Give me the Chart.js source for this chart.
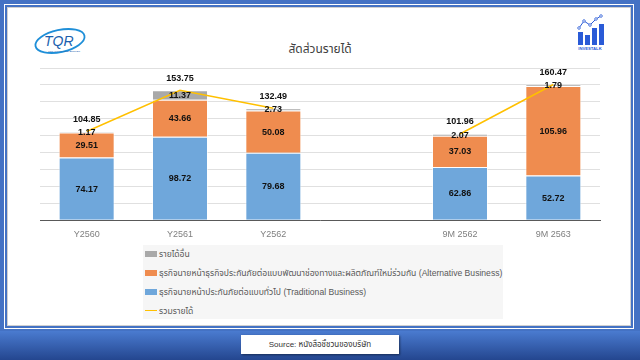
<!DOCTYPE html>
<html>
<head>
<meta charset="utf-8">
<script src="https://cdn.jsdelivr.net/npm/chart.js@4.4.1/dist/chart.umd.min.js"></script>
<style>
  html, body { margin: 0; padding: 0; }
  body { width: 640px; height: 360px; overflow: hidden; background: #4472c4; position: relative;
         font-family: "Liberation Sans", Arial, "Noto Sans Thai", "Noto Sans", sans-serif; }
  #panel { position: absolute; left: 4px; top: 4px; width: 628px; height: 323px; background: #fff;
           border: 1px solid #fff; box-shadow: inset 0 0 0 2px #4472c4, inset 0 0 0 3px #d0d0d0; }
  #bottomBar { position: absolute; left: 0; top: 331px; width: 640px; height: 29px;
               background: linear-gradient(#4a7bd0, #24468f); }
  #source { position: absolute; left: 241px; top: 335px; width: 158px; height: 19px; background: #fff;
            box-shadow: 1px 1px 2px rgba(0,0,0,0.45); font-size: 8px; color: #333; text-align: center; line-height: 19px; }
  #title { position: absolute; left: 0; top: 40px; width: 640px; text-align: center; font-size: 12px; color: #404040; }
  #chartWrap { position: absolute; left: 0; top: 0; width: 640px; height: 252px; }
  #legend { position: absolute; left: 143px; top: 245px; width: 360px; height: 74px; background: #f6f6f6; }
  .item { position: absolute; left: 2px; height: 10px; font-size: 8.6px; color: #595959; line-height: 10px; white-space: nowrap; }
  .sw { display: inline-block; width: 12px; height: 6px; vertical-align: middle; margin-right: 2px; position: relative; top: -1px; }
  .ln { display: inline-block; width: 12px; height: 1.5px; vertical-align: middle; margin-right: 2px; position: relative; top: -1px; }
  #tqr { position: absolute; left: 32px; top: 25px; }
  #inv { position: absolute; left: 572px; top: 12px; }
</style>
</head>
<body>
<div id="panel"></div>
<div id="bottomBar"></div>
<div id="source">Source: หนังสือชี้ชวนของบริษัท</div>

<svg id="tqr" width="58" height="34" viewBox="0 0 58 34">
  <ellipse cx="28" cy="16" rx="25" ry="11" transform="rotate(-12 28 16)" fill="none" stroke="#1f8fd8" stroke-width="1.8"/>
  <text x="12" y="21" font-family="Liberation Sans, Arial" font-style="italic" font-size="14" fill="#1b5fae">TQR</text>
  <text x="16" y="26.5" font-family="Liberation Sans, Arial" font-size="2.5" fill="#1b5fae">TQR INSURANCE BROKER</text>
</svg>

<svg id="inv" width="36" height="40" viewBox="0 0 36 40">
  <rect x="6" y="20" width="5" height="13" fill="#2a5bd7"/>
  <rect x="13" y="23" width="5" height="10" fill="#2a5bd7"/>
  <rect x="20" y="16" width="5" height="17" fill="#2a5bd7"/>
  <rect x="27" y="12" width="5" height="21" fill="#2a5bd7"/>
  <polyline points="7,16 12,9 18,13 24,7 29,4" fill="none" stroke="#2a5bd7" stroke-width="1"/>
  <circle cx="7" cy="16" r="1.3" fill="#fff" stroke="#2a5bd7" stroke-width="0.8"/>
  <circle cx="12" cy="9" r="1.3" fill="#fff" stroke="#2a5bd7" stroke-width="0.8"/>
  <circle cx="18" cy="13" r="1.3" fill="#fff" stroke="#2a5bd7" stroke-width="0.8"/>
  <circle cx="24" cy="7" r="1.3" fill="#fff" stroke="#2a5bd7" stroke-width="0.8"/>
  <circle cx="29" cy="4" r="1.3" fill="#fff" stroke="#2a5bd7" stroke-width="0.8"/>
  <text x="18" y="38" text-anchor="middle" font-family="Liberation Sans, Arial" font-weight="bold" font-size="4.2" fill="#2a5bd7">INVESTALK</text>
</svg>

<div id="title">สัดส่วนรายได้</div>
<div id="chartWrap"><canvas id="c" width="640" height="252"></canvas></div>
<div id="legend"></div>

<script>
// Revenue split by business line (million baht); blank category separates full years from 9-month figures
const categories  = ['Y2560', 'Y2561', 'Y2562', '', '9M 2562', '9M 2563'];
const traditional = [74.17, 98.72, 79.68, null, 62.86, 52.72];
const alternative = [29.51, 43.66, 50.08, null, 37.03, 105.96];
const otherIncome = [1.17, 11.37, 2.73, null, 2.07, 1.79];
const totalIncome = [104.85, 153.75, 132.49, null, 101.96, 160.47];

const seriesNames = {
  other: 'รายได้อื่น',
  alternative: 'ธุรกิจนายหน้าธุรกิจประกันภัยต่อแบบพัฒนาช่องทางและผลิตภัณฑ์ใหม่ร่วมกัน (Alternative Business)',
  traditional: 'ธุรกิจนายหน้าประกันภัยต่อแบบทั่วไป (Traditional Business)',
  total: 'รวมรายได้'
};

const COLORS = { traditional: '#6fa7db', alternative: '#ef8c4f', other: '#a9a9a9', total: '#ffc000' };
const LABEL_FONT = 'bold 9px "Liberation Sans", Arial, sans-serif';

// Writes each segment value in its middle and the total just above each stack
const valueLabels = {
  id: 'valueLabels',
  afterDatasetsDraw(chart) {
    const ctx = chart.ctx;
    ctx.save();
    ctx.font = LABEL_FONT;
    ctx.fillStyle = '#111';
    ctx.textAlign = 'center';
    ctx.textBaseline = 'middle';
    chart.data.datasets.forEach((ds, i) => {
      const meta = chart.getDatasetMeta(i);
      meta.data.forEach((el, j) => {
        const v = ds.data[j];
        if (v === null || v === undefined) return;
        if (ds.type === 'line') {
          ctx.fillText(v.toFixed(2), el.x, el.y - 12);
        } else {
          ctx.fillText(v.toFixed(2), el.x, (el.y + el.base) / 2 + 0.5);
        }
      });
    });
    ctx.restore();
  }
};

const chart = new Chart(document.getElementById('c'), {
  data: {
    labels: categories,
    datasets: [
      { type: 'line', label: seriesNames.total, data: totalIncome, borderColor: COLORS.total,
        borderWidth: 1.5, pointRadius: 0, spanGaps: false, tension: 0, order: 0 },
      { type: 'bar', label: seriesNames.traditional, data: traditional, backgroundColor: COLORS.traditional,
        borderColor: 'rgba(255,255,255,0.6)', borderWidth: 1, stack: 's', order: 1 },
      { type: 'bar', label: seriesNames.alternative, data: alternative, backgroundColor: COLORS.alternative,
        borderColor: 'rgba(255,255,255,0.6)', borderWidth: 1, stack: 's', order: 1 },
      { type: 'bar', label: seriesNames.other, data: otherIncome, backgroundColor: COLORS.other,
        borderColor: 'rgba(255,255,255,0.6)', borderWidth: 1, stack: 's', order: 1 }
    ]
  },
  options: {
    responsive: false,
    animation: false,
    devicePixelRatio: 1,
    layout: { padding: { left: 40, right: 40, top: 68, bottom: 3 } },
    datasets: { bar: { barPercentage: 0.6, categoryPercentage: 1 } },
    plugins: { legend: { display: false }, tooltip: { enabled: false } },
    scales: {
      x: {
        stacked: true,
        grid: { display: false, drawTicks: false },
        border: { display: true, color: '#595959', width: 1 },
        ticks: { color: '#7f7f7f', font: { size: 9, family: '"Liberation Sans", Arial, sans-serif' }, padding: 9 }
      },
      y: {
        stacked: true,
        min: 0, max: 180,
        ticks: { display: false, stepSize: 20 },
        grid: { color: '#e0e0e0', drawTicks: false },
        border: { display: false }
      }
    }
  },
  plugins: [valueLabels]
});

// Vertical legend box: other, alternative, traditional, total
const legend = document.getElementById('legend');
const legendRows = [
  { text: seriesNames.other, color: COLORS.other, line: false },
  { text: seriesNames.alternative, color: COLORS.alternative, line: false },
  { text: seriesNames.traditional, color: COLORS.traditional, line: false },
  { text: seriesNames.total, color: COLORS.total, line: true }
];
legendRows.forEach((r, k) => {
  const d = document.createElement('div');
  d.className = 'item';
  d.style.top = (4 + k * 19) + 'px';
  const s = document.createElement('span');
  s.className = r.line ? 'ln' : 'sw';
  s.style.background = r.color;
  d.appendChild(s);
  d.appendChild(document.createTextNode(r.text));
  legend.appendChild(d);
});
</script>
</body>
</html>
